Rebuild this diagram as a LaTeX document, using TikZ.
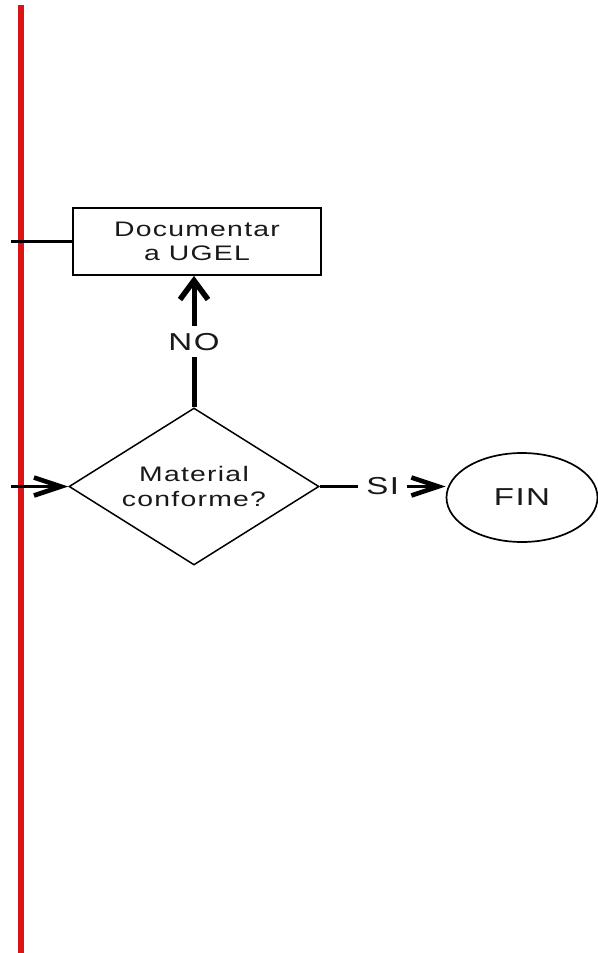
\documentclass[tikz,border=0pt]{standalone}
\usepackage{fontspec}
\setmainfont{Liberation Sans}[FakeStretch=1.35, LetterSpace=6]
\usetikzlibrary{shapes.geometric,arrows.meta}
\definecolor{lanered}{RGB}{218,20,20}
\definecolor{txt}{RGB}{25,25,25}
\tikzset{
  lane/.style={draw=lanered, line width=6pt},
  procbox/.style={draw, line width=1.8pt, minimum width=248pt, minimum height=67pt,
    inner sep=0pt, align=center, text=txt, font=\fontsize{21}{24.5}\selectfont},
  decbox/.style={diamond, draw, line width=1.5pt, minimum width=250pt, minimum height=157pt,
    shape aspect=1.59, inner sep=0pt, align=center, text=txt, font=\fontsize{21}{24.5}\selectfont},
  termbox/.style={ellipse, draw, line width=1.7pt, minimum width=151pt, minimum height=89pt,
    inner sep=0pt, text=txt, font=\fontsize{24.5}{28}\selectfont},
  hconn/.style={draw, line width=3.8pt},
  vconn/.style={draw, line width=5pt},
  htip/.style={-{Straight Barb[length=27pt, width=18pt, line width=4.6pt]}},
  vtip/.style={-{Straight Barb[length=19pt, width=28pt, line width=5.5pt]}},
  lbl/.style={fill=white, inner xsep=8pt, inner ysep=7pt, text=txt, font=\fontsize{24.5}{28}\selectfont},
}
\begin{document}
\begin{tikzpicture}[x=1pt, y=-1pt]
  \useasboundingbox (0,0) rectangle (597,953);
  \fill[white] (0,0) rectangle (597,953);
  % swimlane divider
  \coordinate (laneTop) at (21,5);
  \coordinate (laneBot) at (21,953);
  \draw[lane] (laneTop) -- (laneBot);
  % nodes
  \node[procbox] (doc) at (197,241.5) {Documentar\\a UGEL};
  \node[decbox] (dec) at (194,486.5) {Material\\conforme?};
  \node[termbox] (fin) at (522,497.5) {FIN};
  % free ends
  \coordinate (inA) at (11,241.5);
  \coordinate (inB) at (11,486.5);
  % connectors
  \draw[hconn] (inA) -- (doc.west);
  \draw[hconn, htip] (inB) -- (dec.west);
  \draw[vconn, vtip] (dec.north) -- node[lbl] {NO} (dec.north |- doc.south);
  \draw[hconn, htip] (dec.east) -- node[lbl] {SI} (dec.east -| fin.west);
\end{tikzpicture}
\end{document}
